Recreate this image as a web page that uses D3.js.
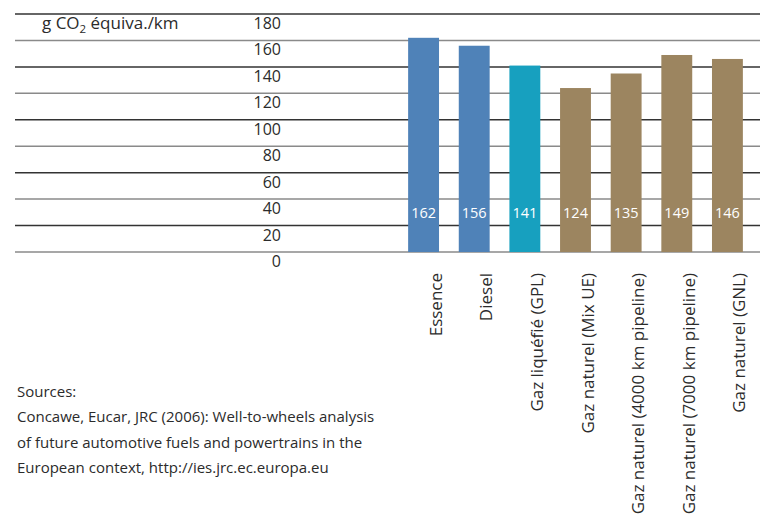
<!DOCTYPE html>
<html><head><meta charset="utf-8">
<script src="https://cdn.jsdelivr.net/npm/d3@7"></script>
<style>body{margin:0;background:#fff}svg{display:block}text{font-family:"Open Sans",sans-serif;fill:#2b2b2b}</style>
</head><body>
<svg id="c" width="760" height="518"></svg>
<script>
const categories = ["Essence","Diesel","Gaz liquéfié (GPL)","Gaz naturel (Mix UE)","Gaz naturel (4000 km pipeline)","Gaz naturel (7000 km pipeline)","Gaz naturel (GNL)"];
const values = [162,156,141,124,135,149,146];
const groups = ["petrole","petrole","gpl","gaz","gaz","gaz","gaz"];
const yTicks = [0,20,40,60,80,100,120,140,160,180];
const sourceLines = ["Sources:","Concawe, Eucar, JRC (2006): Well-to-wheels analysis","of future automotive fuels and powertrains in the","European context, http://ies.jrc.ec.europa.eu"];

const colors = {petrole:"#4f82b8", gpl:"#17a0bf", gaz:"#9c8560"};
const svg = d3.select("#c");
const y = d3.scaleLinear().domain([0,180]).range([252,14]);
const x = d3.scaleBand().domain(categories).range([398,753]).paddingInner(0.39).paddingOuter(0.2);

// gridlines
svg.append("g").selectAll("line").data(yTicks).join("line")
  .attr("x1",15).attr("x2",760)
  .attr("y1",d=>y(d)).attr("y2",d=>y(d))
  .attr("stroke",(d,i)=> (i%2===0) ? "#8a8a8a" : "#333")
  .attr("stroke-width",1.5);

// tick labels
svg.append("g").selectAll("text").data(yTicks).join("text")
  .attr("x",281).attr("y",d=>y(d)+15)
  .attr("text-anchor","end").attr("font-size",16).text(d=>d);

// unit label
const ul = svg.append("text").attr("x",42).attr("y",29).attr("font-size",17);
ul.append("tspan").text("g CO");
ul.append("tspan").attr("font-size",11.5).attr("dy",4).text("2");
ul.append("tspan").attr("dy",-4).text(" équiva./km");

// bars
svg.append("g").selectAll("rect").data(values).join("rect")
  .attr("x",(d,i)=>x(categories[i])).attr("width",x.bandwidth())
  .attr("y",d=>y(d)).attr("height",d=>y(0)-y(d))
  .attr("fill",(d,i)=>colors[groups[i]]);

// value labels
svg.append("g").selectAll("text").data(values).join("text")
  .attr("x",(d,i)=>x(categories[i])+x.bandwidth()/2).attr("y",218)
  .attr("text-anchor","middle").attr("font-size",14.5)
  .style("fill","#fff").text(d=>d);

// category labels
svg.append("g").selectAll("text").data(categories).join("text")
  .attr("transform",d=>`translate(${x(d)+x.bandwidth()/2+18},273) rotate(-90)`)
  .attr("text-anchor","end").attr("font-size",17).text(d=>d);

// sources
svg.append("g").selectAll("text").data(sourceLines).join("text")
  .attr("x",17).attr("y",(d,i)=>397+i*25.3).attr("font-size",15).text(d=>d);
</script>
</body></html>
